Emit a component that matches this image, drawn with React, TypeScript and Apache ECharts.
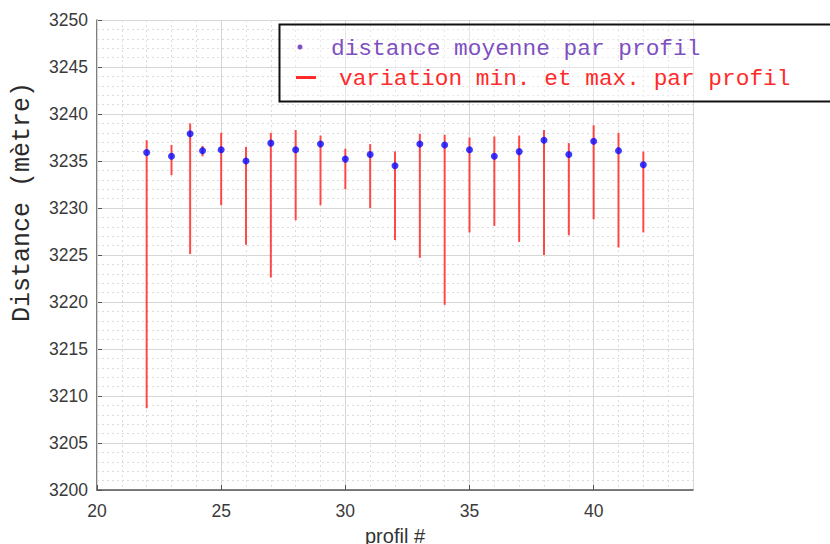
import React, { useEffect, useRef } from "react";
import * as echarts from "echarts";

// Profile numbers and the distance statistics per profile (metres)
const profils = [22, 23, 23.75, 24.25, 25, 26, 27, 28, 29, 30, 31, 32, 33, 34, 35, 36, 37, 38, 39, 40, 41, 42];
const moyenne = [3235.9, 3235.5, 3237.9, 3236.1, 3236.2, 3235.0, 3236.9, 3236.2, 3236.8, 3235.2, 3235.7, 3234.5, 3236.8, 3236.7, 3236.2, 3235.5, 3236.0, 3237.2, 3235.7, 3237.1, 3236.1, 3234.6];
const minimum = [3208.7, 3233.5, 3225.1, 3235.5, 3230.3, 3226.1, 3222.6, 3228.7, 3230.3, 3232.0, 3230.0, 3226.6, 3224.7, 3219.7, 3227.4, 3228.1, 3226.4, 3225.0, 3227.1, 3228.8, 3225.8, 3227.4];
const maximum = [3237.2, 3236.7, 3239.0, 3236.6, 3238.0, 3236.5, 3238.0, 3238.3, 3237.7, 3236.3, 3236.8, 3236.0, 3237.9, 3237.8, 3237.5, 3237.6, 3237.7, 3238.3, 3236.9, 3238.8, 3238.0, 3236.0];

const legendMoyenne = "distance moyenne par profil";
const legendVariation = "variation min. et max. par profil";
const yTitle = "Distance (mètre)";
const xTitle = "profil #";

const MONO = "'Liberation Mono', 'DejaVu Sans Mono', monospace";
const SANS = "'Liberation Sans', Arial, sans-serif";
const PURPLE = "#7e4fc1";
const RED = "#ff2a2a";

export default function App() {
  const ref = useRef<HTMLDivElement>(null);

  useEffect(() => {
    if (!ref.current) return;
    const chart = echarts.init(ref.current, null, { renderer: "svg" });

    const rangeData = profils.map((p, i) => [p, minimum[i], maximum[i]]);
    const meanData = profils.map((p, i) => [p, moyenne[i]]);

    chart.setOption({
      animation: false,
      backgroundColor: "#ffffff",
      grid: { left: 97, top: 20, right: 137, bottom: 54, outerBoundsMode: "none", containLabel: false },
      xAxis: [
        {
          type: "value",
          min: 20,
          max: 44,
          interval: 5,
          name: xTitle,
          nameLocation: "middle",
          nameGap: 36,
          nameTextStyle: { fontFamily: SANS, fontSize: 20, color: "#333" },
          axisLine: { show: true, lineStyle: { color: "#555", width: 1.5 } },
          axisTick: { show: true, inside: true, length: 5, lineStyle: { color: "#555" } },
          axisLabel: {
            fontFamily: SANS,
            fontSize: 17.5,
            color: "#3a3a3a",
            margin: 12,
            showMaxLabel: false,
          },
          splitLine: { show: true, lineStyle: { color: "#d6d6d6", width: 1 } },
          z: 3,
        },
        {
          // unit-step dotted grid along x
          type: "value",
          min: 20,
          max: 44,
          interval: 1,
          position: "bottom",
          axisLine: { show: false },
          axisTick: { show: false },
          axisLabel: { show: false },
          splitLine: { show: true, lineStyle: { color: "#dcdcdc", type: [2, 3], width: 1 } },
          z: 1,
        },
      ],
      yAxis: {
        type: "value",
        min: 3200,
        max: 3250,
        interval: 5,
        axisLine: { show: true, lineStyle: { color: "#555", width: 1.5 } },
        axisTick: { show: true, inside: true, length: 5, lineStyle: { color: "#555" } },
        axisLabel: {
          fontFamily: SANS,
          fontSize: 17.5,
          color: "#3a3a3a",
          margin: 9,
          formatter: (v: number) => String(v),
        },
        splitLine: { show: true, lineStyle: { color: "#d6d6d6", width: 1 } },
        minorTick: { show: false, splitNumber: 5 },
        minorSplitLine: { show: true, lineStyle: { color: "#dcdcdc", type: [2, 3], width: 1 } },
      },
      series: [
        {
          name: legendVariation,
          type: "custom",
          xAxisIndex: 0,
          data: rangeData,
          encode: { x: 0, y: [1, 2] },
          renderItem: (_params: any, api: any) => {
            const x = api.value(0);
            const lo = api.coord([x, api.value(1)]);
            const hi = api.coord([x, api.value(2)]);
            return {
              type: "line",
              shape: { x1: lo[0], y1: lo[1], x2: hi[0], y2: hi[1] },
              style: { stroke: RED, lineWidth: 2, opacity: 0.85 },
            };
          },
          z: 4,
        },
        {
          name: legendMoyenne,
          type: "scatter",
          xAxisIndex: 0,
          data: meanData,
          symbol: "circle",
          symbolSize: 7,
          itemStyle: { color: "#0a0aff" },
          z: 5,
        },
      ],
      graphic: [
        {
          type: "text",
          x: 22,
          y: 202,
          rotation: Math.PI / 2,
          style: {
            text: yTitle,
            fontFamily: MONO,
            fontSize: 25,
            fill: "#2a2a2a",
            align: "center",
            verticalAlign: "middle",
          },
        },
        {
          type: "rect",
          shape: { x: 279.5, y: 24.5, width: 560, height: 77 },
          style: { fill: "rgba(255,255,255,0.35)", stroke: "#111", lineWidth: 2 },
          z: 10,
        },
        {
          type: "circle",
          shape: { cx: 300, cy: 47, r: 2.5 },
          style: { fill: PURPLE },
          z: 11,
        },
        {
          type: "line",
          shape: { x1: 296, y1: 77.5, x2: 316, y2: 77.5 },
          style: { stroke: RED, lineWidth: 3 },
          z: 11,
        },
        {
          type: "text",
          x: 331,
          y: 48.5,
          style: {
            text: legendMoyenne,
            fontFamily: MONO,
            fontSize: 22.8,
            fill: PURPLE,
            verticalAlign: "middle",
          },
          z: 11,
        },
        {
          type: "text",
          x: 339,
          y: 78.5,
          style: {
            text: legendVariation,
            fontFamily: MONO,
            fontSize: 22.8,
            fill: RED,
            verticalAlign: "middle",
          },
          z: 11,
        },
      ],
    });

    return () => chart.dispose();
  }, []);

  return <div ref={ref} style={{ width: 830, height: 544, position: "fixed", left: 0, top: 0 }} />;
}
